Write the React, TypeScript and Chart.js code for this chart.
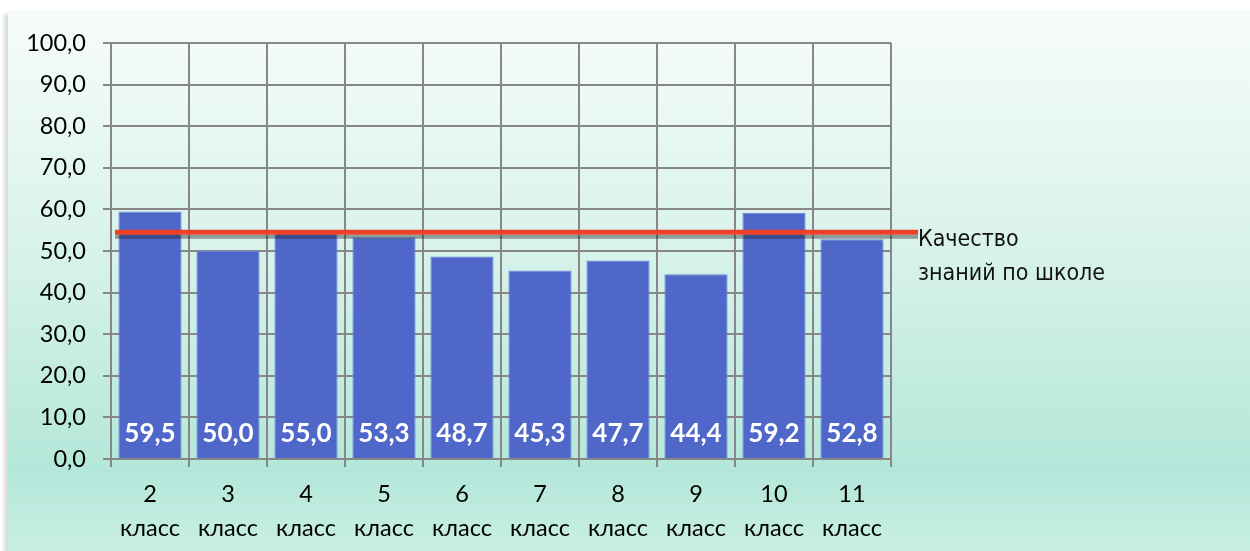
import React, { useEffect, useRef } from "react";
import { Chart, registerables } from "chart.js";

Chart.register(...registerables);

const grades = ["2", "3", "4", "5", "6", "7", "8", "9", "10", "11"];
const gradeWord = "класс";
const quality = [59.5, 50.0, 55.0, 53.3, 48.7, 45.3, 47.7, 44.4, 59.2, 52.8];
const schoolQuality = 54.5;
const schoolLabel = ["Качество", "знаний по школе"];
const yTicks = [0, 10, 20, 30, 40, 50, 60, 70, 80, 90, 100];

const GRID = "#878787";
const FONT = "Lato, 'Open Sans', sans-serif";

const fmt = (v: number) => v.toFixed(1).replace(".", ",");

const overlayPlugin = {
  id: "overlay",
  afterDatasetsDraw(chart: any) {
    const ctx = chart.ctx;
    const y = chart.scales.y;
    const area = chart.chartArea;
    const meta = chart.getDatasetMeta(0);
    const y0 = y.getPixelForValue(0);
    ctx.save();
    // data labels
    ctx.fillStyle = "#ffffff";
    ctx.font = `bold 26px ${FONT}`;
    ctx.textAlign = "center";
    ctx.textBaseline = "middle";
    meta.data.forEach((bar: any, i: number) => {
      ctx.fillText(fmt(quality[i]), bar.x, y0 - 25);
    });
    // school average line
    const ly = y.getPixelForValue(schoolQuality);
    const x1 = area.left + 4;
    const x2 = area.right + 27;
    ctx.lineCap = "butt";
    ctx.strokeStyle = "rgba(30,40,40,0.42)";
    ctx.lineWidth = 4;
    ctx.beginPath();
    ctx.moveTo(x1, ly + 4.5);
    ctx.lineTo(x2, ly + 4.5);
    ctx.stroke();
    ctx.strokeStyle = "#ec4127";
    ctx.lineWidth = 5;
    ctx.beginPath();
    ctx.moveTo(x1, ly);
    ctx.lineTo(x2, ly);
    ctx.stroke();
    // legend text
    ctx.fillStyle = "#111111";
    ctx.font = `23px 'DejaVu Sans Condensed', 'DejaVu Sans', sans-serif`;
    ctx.textAlign = "left";
    ctx.textBaseline = "alphabetic";
    schoolLabel.forEach((t, i) => {
      ctx.fillText(t, x2, ly + 14 + i * 34);
    });
    ctx.restore();
  },
};

export default function App() {
  const ref = useRef<HTMLCanvasElement | null>(null);
  useEffect(() => {
    document.body.style.margin = "0";
    const cv = ref.current;
    if (!cv) return;
    const chart = new Chart(cv, {
      type: "bar",
      data: {
        labels: grades.map((g) => [g, gradeWord]),
        datasets: [
          {
            label: "Качество знаний",
            data: quality,
            backgroundColor: "#4f67c9",
            borderColor: "#6a83dc",
            borderWidth: 1,
            barPercentage: 0.81,
            categoryPercentage: 1,
          },
        ],
      },
      options: {
        responsive: false,
        animation: false,
        layout: { padding: { top: 43, right: 359, left: 0, bottom: 0 } },
        plugins: { legend: { display: false }, tooltip: { enabled: false } },
        scales: {
          x: {
            grid: { color: GRID, lineWidth: 2, offset: true, tickLength: 8, drawTicks: true },
            border: { color: GRID, width: 2 },
            ticks: {
              color: "#000",
              font: { family: FONT, size: 23.5, lineHeight: 1.43 },
              padding: 11,
              maxRotation: 0,
              autoSkip: false,
            },
            afterFit: (s: any) => {
              s.height = 92;
            },
          },
          y: {
            min: 0,
            max: 100,
            afterBuildTicks: (s: any) => {
              s.ticks = yTicks.map((v) => ({ value: v }));
            },
            grid: { color: GRID, lineWidth: 2, tickLength: 8 },
            border: { color: GRID, width: 2 },
            ticks: {
              color: "#000",
              font: { family: FONT, size: 23.5 },
              padding: 17,
              callback: (v: any) => fmt(Number(v)),
            },
            afterFit: (s: any) => {
              s.width = 111;
            },
          },
        },
      },
      plugins: [overlayPlugin],
    });
    return () => chart.destroy();
  }, []);

  return (
    <div style={{ position: "absolute", left: 0, top: 0, width: 1250, height: 551, overflow: "hidden", background: "#ffffff" }}>
      <div
        style={{
          position: "absolute",
          left: 8,
          top: 10,
          width: 1242,
          height: 541,
          background:
            "linear-gradient(to bottom, #f7fcfa 0%, #e6f7f1 25%, #d3f1e8 50%, #bdeadd 75%, #b4e7d9 85%, #c8efe4 100%)",
          boxShadow: "-4px 4px 4px rgba(0,0,0,0.15)",
        }}
      />
      <canvas ref={ref} width={1250} height={551} style={{ position: "absolute", left: 0, top: 0, display: "block" }} />
    </div>
  );
}
